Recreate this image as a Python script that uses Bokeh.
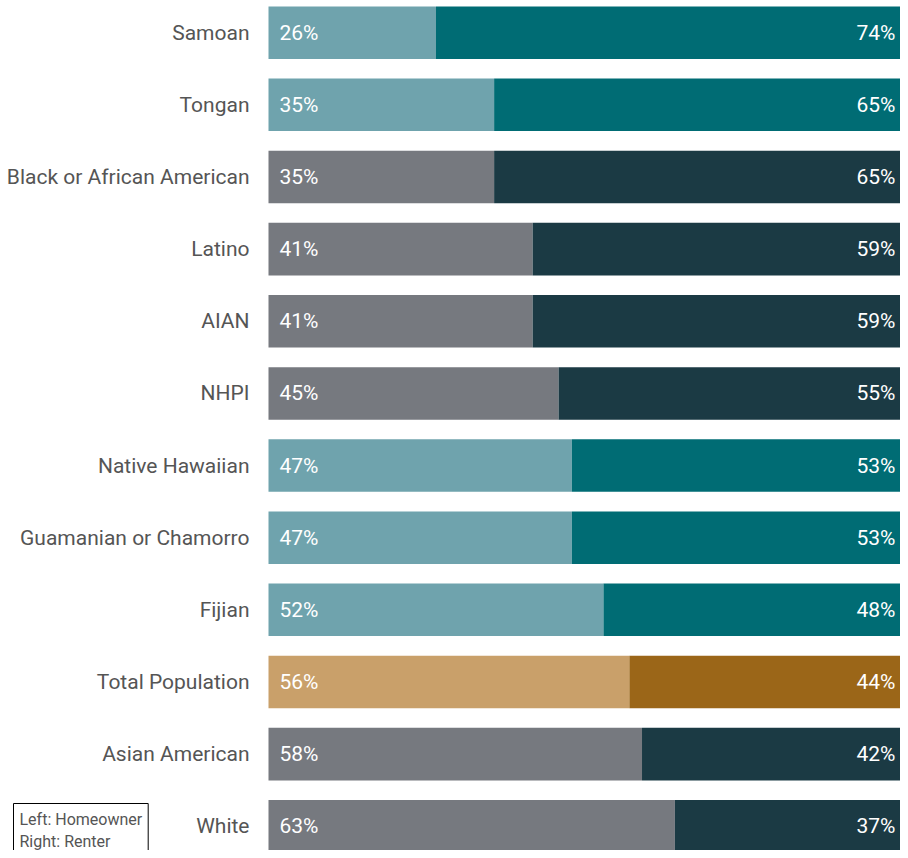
from bokeh.plotting import figure
from bokeh.models import Range1d, ColumnDataSource, Label
from bokeh.core.properties import value
from bokeh.embed import file_html
from bokeh.resources import INLINE

categories = ["Samoan", "Tongan", "Black or African American", "Latino", "AIAN", "NHPI",
              "Native Hawaiian", "Guamanian or Chamorro", "Fijian", "Total Population",
              "Asian American", "White"]
# bar split (homeowner share, % of width) as drawn
owner_share = [26.5, 35.7, 35.7, 41.8, 41.8, 45.9, 48.0, 48.0, 53.0, 57.1, 59.1, 64.3]
# printed labels
owner_labels = [26, 35, 35, 41, 41, 45, 47, 47, 52, 56, 58, 63]
renter_labels = [74, 65, 65, 59, 59, 55, 53, 53, 48, 44, 42, 37]
groups = ["nhpi", "nhpi", "other", "other", "other", "other", "nhpi", "nhpi", "nhpi",
          "total", "other", "other"]

light = {"nhpi": "#6FA3AD", "other": "#76797F", "total": "#C9A06A"}
dark = {"nhpi": "#006C74", "other": "#1B3A44", "total": "#9B6618"}

FONT = "Roboto"
idx = list(range(len(categories)))
src = ColumnDataSource(dict(
    y=idx,
    cat=categories,
    zero=[0] * len(idx),
    split=owner_share,
    full=[100] * len(idx),
    lc=[light[g] for g in groups],
    dc=[dark[g] for g in groups],
    ol=[f"{v}%" for v in owner_labels],
    rl=[f"{v}%" for v in renter_labels],
))

p = figure(width=900, height=850, output_backend="svg", toolbar_location=None,
           x_range=Range1d(-42.405, 100), y_range=Range1d(11.336, -0.4464),
           x_axis_location=None, y_axis_location=None,
           min_border_left=0, min_border_right=0, min_border_top=0, min_border_bottom=0)
p.outline_line_color = None
p.grid.visible = False
p.background_fill_color = "white"
p.border_fill_color = "white"

H = 0.728
p.hbar(y="y", left="zero", right="split", height=H, color="lc", line_color=None, source=src)
p.hbar(y="y", left="split", right="full", height=H, color="dc", line_color=None, source=src)

p.text(x="zero", y="y", text="cat", x_offset=-19, text_align="right", text_baseline="middle",
       text_color="#555555", text_font=value(FONT), text_font_size="21px", source=src)
p.text(x="zero", y="y", text="ol", x_offset=11, text_align="left", text_baseline="middle",
       text_color="white", text_font=value(FONT), text_font_size="21px", source=src)
p.text(x="full", y="y", text="rl", x_offset=-5, text_align="right", text_baseline="middle",
       text_color="white", text_font=value(FONT), text_font_size="21px", source=src)

legend = Label(x=13, y=47, x_units="screen", y_units="screen",
               text="Left: Homeowner\nRight: Renter", text_font=FONT, text_font_size="16px",
               text_color="#555555", text_align="left", text_baseline="top",
               text_line_height=1.2, padding=6,
               border_line_color="black", border_line_width=1,
               background_fill_color="white")
p.add_layout(legend)

open("out.html", "w").write(file_html(p, INLINE))
